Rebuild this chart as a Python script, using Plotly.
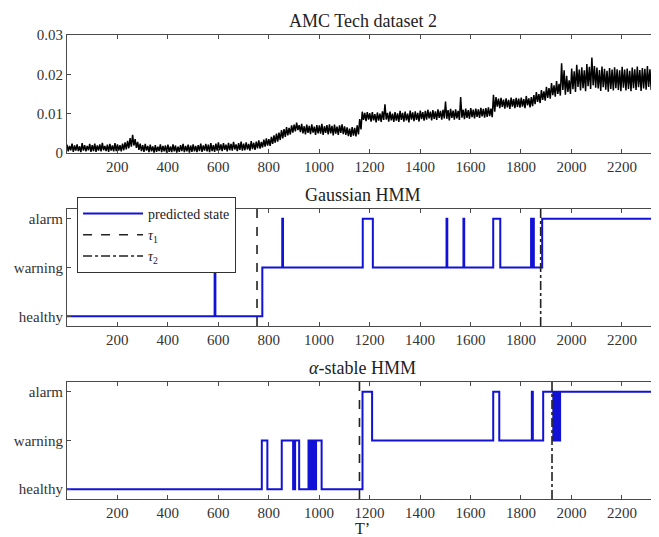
import plotly.graph_objects as go
from plotly.subplots import make_subplots

# top panel: AMC Tech dataset 2, read as upper / lower edge of the noisy trace
# in bins of 10 samples starting at t=1
step = 10
signal_hi = [
    0.0021, 0.0018, 0.0024, 0.0019, 0.0022, 0.0017, 0.0025, 0.0020, 0.0018, 0.0023,
    0.0020, 0.0024, 0.0019, 0.0022, 0.0026, 0.0018, 0.0021, 0.0023, 0.0019, 0.0025,
    0.0022, 0.0020, 0.0024, 0.0027, 0.0031, 0.0038, 0.0046, 0.0035, 0.0028, 0.0024,
    0.0020, 0.0023, 0.0018, 0.0021, 0.0017, 0.0020, 0.0016, 0.0022, 0.0018, 0.0019,
    0.0021, 0.0017, 0.0022, 0.0019, 0.0016, 0.0020, 0.0023, 0.0018, 0.0021, 0.0019,
    0.0022, 0.0018, 0.0020, 0.0024, 0.0019, 0.0023, 0.0021, 0.0025, 0.0020, 0.0024,
    0.0027, 0.0022, 0.0025, 0.0021, 0.0026, 0.0023, 0.0028, 0.0022, 0.0025, 0.0029,
    0.0024, 0.0027, 0.0023, 0.0030, 0.0026, 0.0029, 0.0032, 0.0028, 0.0034, 0.0037,
    0.0035, 0.0041, 0.0045, 0.0049, 0.0052, 0.0058, 0.0061, 0.0066, 0.0064, 0.0070,
    0.0072, 0.0077, 0.0071, 0.0074, 0.0068, 0.0072, 0.0069, 0.0073, 0.0067, 0.0071,
    0.0070, 0.0074, 0.0068, 0.0071, 0.0073, 0.0069, 0.0072, 0.0067, 0.0070, 0.0073,
    0.0068, 0.0065, 0.0062, 0.0066, 0.0064, 0.0070, 0.0086, 0.0105, 0.0102, 0.0104,
    0.0101, 0.0104, 0.0099, 0.0103, 0.0100, 0.0106, 0.0124, 0.0102, 0.0105, 0.0100,
    0.0104, 0.0101, 0.0107, 0.0102, 0.0105, 0.0100, 0.0108, 0.0103, 0.0106, 0.0102,
    0.0108, 0.0104, 0.0107, 0.0110, 0.0105, 0.0109, 0.0106, 0.0111, 0.0107, 0.0110,
    0.0131, 0.0109, 0.0112, 0.0108, 0.0111, 0.0107, 0.0142, 0.0110, 0.0113, 0.0109,
    0.0114, 0.0110, 0.0113, 0.0111, 0.0115, 0.0112, 0.0114, 0.0116, 0.0113, 0.0148,
    0.0142, 0.0138, 0.0140, 0.0136, 0.0139, 0.0135, 0.0141, 0.0137, 0.0140, 0.0138,
    0.0141, 0.0137, 0.0145, 0.0139, 0.0142, 0.0147, 0.0155, 0.0150, 0.0160, 0.0157,
    0.0168, 0.0165, 0.0178, 0.0172, 0.0183, 0.0176, 0.0228, 0.0210, 0.0196, 0.0185,
    0.0215, 0.0208, 0.0224, 0.0212, 0.0218, 0.0210, 0.0226, 0.0219, 0.0243, 0.0221,
    0.0217, 0.0211, 0.0220, 0.0214, 0.0209, 0.0216, 0.0212, 0.0218, 0.0213, 0.0210,
    0.0219, 0.0212, 0.0215, 0.0209, 0.0217, 0.0213, 0.0220, 0.0211, 0.0216, 0.0214,
    0.0221, 0.0213, 0.0218, 0.0215, 0.0206,
]
signal_lo = [
    0.0004, 0.0007, 0.0003, 0.0006, 0.0005, 0.0002, 0.0006, 0.0004, 0.0007, 0.0003,
    0.0005, 0.0003, 0.0006, 0.0004, 0.0007, 0.0005, 0.0003, 0.0006, 0.0004, 0.0005,
    0.0006, 0.0004, 0.0007, 0.0009, 0.0012, 0.0016, 0.0019, 0.0013, 0.0008, 0.0005,
    0.0003, 0.0006, 0.0002, 0.0004, 0.0001, 0.0003, 0.0005, 0.0002, 0.0004, 0.0001,
    0.0003, 0.0002, 0.0004, 0.0001, 0.0003, 0.0005, 0.0002, 0.0004, 0.0001, 0.0003,
    0.0004, 0.0002, 0.0005, 0.0003, 0.0006, 0.0004, 0.0002, 0.0005, 0.0003, 0.0006,
    0.0007, 0.0005, 0.0008, 0.0004, 0.0007, 0.0006, 0.0009, 0.0005, 0.0008, 0.0006,
    0.0007, 0.0009, 0.0006, 0.0010, 0.0008, 0.0012, 0.0011, 0.0014, 0.0016, 0.0019,
    0.0018, 0.0023, 0.0026, 0.0029, 0.0033, 0.0037, 0.0041, 0.0045, 0.0047, 0.0052,
    0.0055, 0.0058, 0.0053, 0.0050, 0.0047, 0.0051, 0.0048, 0.0052, 0.0046, 0.0050,
    0.0049, 0.0046, 0.0051, 0.0047, 0.0050, 0.0045, 0.0049, 0.0046, 0.0051, 0.0048,
    0.0046, 0.0043, 0.0041, 0.0044, 0.0042, 0.0047, 0.0060, 0.0084, 0.0081, 0.0085,
    0.0080, 0.0083, 0.0078, 0.0082, 0.0079, 0.0084, 0.0085, 0.0080, 0.0083, 0.0079,
    0.0082, 0.0079, 0.0084, 0.0080, 0.0083, 0.0078, 0.0085, 0.0081, 0.0084, 0.0080,
    0.0086, 0.0082, 0.0085, 0.0088, 0.0083, 0.0087, 0.0084, 0.0089, 0.0085, 0.0088,
    0.0087, 0.0083, 0.0089, 0.0085, 0.0088, 0.0084, 0.0090, 0.0086, 0.0089, 0.0087,
    0.0091, 0.0088, 0.0092, 0.0089, 0.0093, 0.0090, 0.0092, 0.0094, 0.0091, 0.0105,
    0.0118, 0.0114, 0.0117, 0.0113, 0.0116, 0.0112, 0.0118, 0.0114, 0.0117, 0.0115,
    0.0118, 0.0114, 0.0121, 0.0116, 0.0119, 0.0124, 0.0130, 0.0127, 0.0135, 0.0133,
    0.0140, 0.0138, 0.0147, 0.0143, 0.0150, 0.0146, 0.0160, 0.0148, 0.0155, 0.0150,
    0.0162, 0.0155, 0.0168, 0.0159, 0.0165, 0.0157, 0.0170, 0.0163, 0.0172, 0.0166,
    0.0164, 0.0158, 0.0167, 0.0161, 0.0156, 0.0163, 0.0159, 0.0165, 0.0160, 0.0157,
    0.0166, 0.0159, 0.0163, 0.0157, 0.0165, 0.0160, 0.0167, 0.0158, 0.0164, 0.0161,
    0.0168, 0.0160, 0.0165, 0.0162, 0.0140,
]
t_end = 2343

# predicted states (1 healthy, 2 warning, 3 alarm) at each change time
state_names = ["healthy", "warning", "alarm"]

gauss_t = [1, 586, 589, 775, 854, 857, 1173, 1213, 1505, 1508, 1572, 1575,
           1690, 1718, 1840, 1843, 1847, 1851, 1884, t_end]
gauss_state = [1, 2, 1, 2, 3, 2, 3, 2, 3, 2, 3, 2,
               3, 2, 3, 2, 3, 2, 3, 3]
gauss_tau = [754, 1878]

stable_t = [1, 773, 795, 852, 897, 905, 921, 958, 964, 968, 975, 979, 984, 988, 1010,
            1172, 1210, 1690, 1714, 1843, 1847, 1888, 1928, 1931, 1934, 1937, 1940,
            1943, 1946, 1949, 1952, 1955, t_end]
stable_state = [1, 2, 1, 2, 1, 2, 1, 2, 1, 2, 1, 2, 1, 2, 1,
                3, 2, 3, 2, 3, 2, 3, 2, 3, 2, 3, 2,
                3, 2, 3, 2, 3, 3]
stable_tau = [1160, 1923]

# trace the noisy signal back and forth between its upper and lower edge
sig_t, sig_y = [], []
for i, (hi, lo) in enumerate(zip(signal_hi, signal_lo)):
    sig_t += [1 + i * step, 1 + i * step + step // 2]
    sig_y += [hi, lo]

FONT = "Liberation Serif"
BLUE = "rgb(18,18,215)"
AXIS = "#4a4a4a"
state_range = [0.8, 3.2]

fig = make_subplots(rows=3, cols=1, vertical_spacing=0.0)

fig.add_trace(go.Scatter(x=sig_t, y=sig_y, mode="lines", line=dict(color="black", width=1.5),
                         showlegend=False), row=1, col=1)

for row, ts, ss, tau in [(2, gauss_t, gauss_state, gauss_tau), (3, stable_t, stable_state, stable_tau)]:
    first = row == 2
    fig.add_trace(go.Scatter(x=ts, y=ss, mode="lines", line=dict(color=BLUE, width=2, shape="hv"),
                             name="predicted state", showlegend=first), row=row, col=1)
    fig.add_trace(go.Scatter(x=[tau[0], tau[0]], y=state_range, mode="lines",
                             line=dict(color="#222", width=1.6, dash="dash"),
                             name="<i>τ</i><sub>1</sub>", showlegend=first), row=row, col=1)
    fig.add_trace(go.Scatter(x=[tau[1], tau[1]], y=state_range, mode="lines",
                             line=dict(color="#222", width=1.6, dash="dashdot"),
                             name="<i>τ</i><sub>2</sub>", showlegend=first), row=row, col=1)

# panel positions (paper coords)
domains = {1: [0.7457, 1.0], 2: [0.3728, 0.625], 3: [0.0, 0.2522]}
for row in (1, 2, 3):
    fig.update_yaxes(domain=domains[row], row=row, col=1)

axis_style = dict(showline=True, linecolor=AXIS, linewidth=1, mirror="ticks", ticks="inside",
                  ticklen=4, tickcolor=AXIS, showgrid=False, zeroline=False,
                  tickfont=dict(family=FONT, size=15, color="#333"))
fig.update_xaxes(range=[1, t_end], tickvals=list(range(200, 2400, 200)), **axis_style)
fig.update_yaxes(**axis_style)
fig.update_yaxes(range=[0, 0.03], tickvals=[0, 0.01, 0.02, 0.03], ticktext=["0", "0.01", "0.02", "0.03"],
                 row=1, col=1)
for row in (2, 3):
    fig.update_yaxes(range=state_range, tickvals=[1, 2, 3], ticktext=state_names, row=row, col=1)

titles = [("AMC Tech dataset 2", 1.0), ("Gaussian HMM", 0.625), ("<i>α</i>-stable HMM", 0.2522)]
for text, y in titles:
    fig.add_annotation(text=text, x=0.5, y=y, xref="paper", yref="paper", yanchor="bottom", yshift=2,
                       showarrow=False, font=dict(family=FONT, size=18, color="#222"))
fig.add_annotation(text="T’", x=0.5, y=0, xref="paper", yref="paper", yanchor="top", yshift=-19,
                   showarrow=False, font=dict(family=FONT, size=16, color="#222"))

# page body adds an 8px offset, so the figure is 8px smaller than the window
fig.update_layout(
    width=651, height=529,
    margin=dict(l=59, r=1, t=27, b=38),
    plot_bgcolor="white", paper_bgcolor="white",
    font=dict(family=FONT, size=15, color="#222"),
    legend=dict(x=0.017, y=0.651, xanchor="left", yanchor="top", bgcolor="white",
                bordercolor="#333", borderwidth=1, font=dict(family=FONT, size=14),
                itemwidth=60, tracegroupgap=0),
)

fig.write_html("out.html")
